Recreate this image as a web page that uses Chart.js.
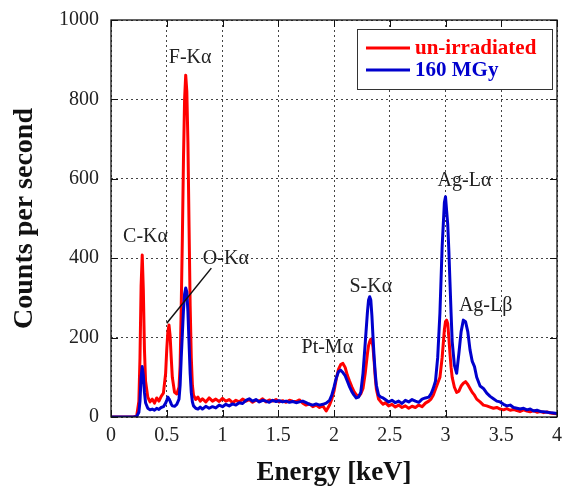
<!DOCTYPE html>
<html><head><meta charset="utf-8">
<script src="https://cdn.jsdelivr.net/npm/chart.js@4/dist/chart.umd.min.js"></script>
<style>html,body{margin:0;padding:0;background:#fff;}#wrap{width:563px;height:489px;}</style>
</head><body><div id="wrap"><canvas id="c" width="563" height="489"></canvas></div>
<script>
// ---- data ----
const energyKeV = [0.00,0.10,0.20,0.23,0.25,0.26,0.27,0.28,0.29,0.30,0.31,0.33,0.35,0.37,0.39,0.41,0.43,0.45,0.47,0.49,0.50,0.51,0.52,0.53,0.54,0.55,0.57,0.59,0.61,0.62,0.63,0.64,0.65,0.66,0.67,0.68,0.69,0.70,0.71,0.72,0.73,0.74,0.76,0.78,0.80,0.82,0.85,0.88,0.91,0.94,0.97,1.00,1.03,1.06,1.09,1.12,1.15,1.18,1.21,1.24,1.27,1.30,1.33,1.36,1.39,1.42,1.45,1.48,1.51,1.54,1.57,1.60,1.63,1.66,1.69,1.72,1.75,1.78,1.81,1.84,1.87,1.90,1.93,1.96,1.98,2.00,2.02,2.04,2.06,2.08,2.10,2.12,2.14,2.16,2.18,2.20,2.22,2.24,2.26,2.28,2.30,2.31,2.32,2.33,2.34,2.35,2.36,2.37,2.38,2.40,2.42,2.44,2.46,2.49,2.52,2.55,2.58,2.61,2.64,2.67,2.70,2.73,2.76,2.79,2.82,2.85,2.87,2.89,2.91,2.93,2.95,2.97,2.99,3.00,3.01,3.02,3.03,3.04,3.05,3.06,3.08,3.10,3.12,3.14,3.16,3.18,3.20,3.22,3.24,3.26,3.28,3.31,3.34,3.37,3.40,3.43,3.46,3.49,3.52,3.55,3.58,3.61,3.64,3.67,3.70,3.73,3.76,3.79,3.82,3.85,3.88,3.91,3.94,3.97,4.00];
const unIrradiated = [0,0,0,2,40,150,330,408,320,170,90,50,38,45,35,48,40,52,60,110,170,215,232,205,150,100,62,58,75,130,280,450,650,800,861,820,690,480,280,150,80,55,44,50,40,46,38,48,40,45,39,47,40,44,36,42,38,45,40,44,37,42,40,46,38,43,40,44,38,41,37,42,40,39,43,35,30,33,26,30,24,28,15,30,45,65,95,120,132,135,125,105,90,76,64,56,52,58,72,110,160,180,190,196,194,175,140,100,70,45,38,32,36,28,32,25,30,24,28,22,27,24,30,26,35,40,45,55,70,85,100,150,220,240,244,235,200,160,125,100,75,62,65,78,85,89,82,72,62,55,45,38,30,28,25,22,24,20,18,21,17,19,16,14,18,15,13,16,12,14,11,13,10,9,8];
const mgy160 = [0,0,0,1,12,40,100,127,105,62,36,22,18,20,17,22,19,24,26,35,42,50,46,40,33,28,27,32,45,80,150,210,270,310,325,315,265,185,110,62,38,28,22,20,25,20,27,22,26,23,30,26,32,28,33,30,36,34,42,46,40,44,38,42,40,37,42,39,41,38,40,37,39,36,38,40,36,32,30,33,30,32,35,42,55,75,98,114,118,112,104,90,76,64,55,48,50,62,110,186,265,295,303,295,255,200,150,110,80,55,50,48,44,38,42,36,40,34,42,38,44,40,37,45,48,50,58,72,90,150,262,430,540,555,520,485,420,340,262,190,130,110,160,215,244,240,215,169,140,127,100,78,72,60,52,46,40,38,32,28,30,24,22,20,22,18,20,15,17,14,13,12,11,10,9];
const seriesNames = ["un-irradiated", "160 MGy"];
const xTickValues = [0,0.5,1,1.5,2,2.5,3,3.5,4];
const xTickLabels = ["0","0.5","1","1.5","2","2.5","3","3.5","4"];
const yTickValues = [0,200,400,600,800,1000];
const yTickLabels = ["0","200","400","600","800","1000"];
const peakNames = ["C-Kα","O-Kα","F-Kα","Pt-Mα","S-Kα","Ag-Lα","Ag-Lβ"];
const peakNameE = [0.31,1.03,0.71,1.94,2.33,3.17,3.36];
const peakNameV = [455,398,904,174,327,594,280];
const oLeaderE = [0.50,0.90];
const oLeaderV = [236,375];

const SERIF = '"Liberation Serif", "Times New Roman", serif';
const RED = 'rgb(255,0,0)';
const BLUE = 'rgb(0,0,205)';

function pts(vals){ return energyKeV.map((e,i)=>({x:e,y:vals[i]})); }

const decor = {
  id:'decor',
  afterDatasetsDraw(chart){
    const ctx = chart.ctx, ca = chart.chartArea;
    const xs = chart.scales.x, ys = chart.scales.y;
    ctx.save();
    ctx.strokeStyle = '#111'; ctx.lineWidth = 1.3; ctx.setLineDash([]);
    ctx.strokeRect(ca.left, ca.top, ca.right-ca.left, ca.bottom-ca.top);
    ctx.lineWidth = 1;
    const tl = 7;
    xTickValues.forEach(v=>{
      const px = Math.round(xs.getPixelForValue(v))+0.5;
      ctx.beginPath(); ctx.moveTo(px, ca.bottom); ctx.lineTo(px, ca.bottom-tl);
      ctx.moveTo(px, ca.top); ctx.lineTo(px, ca.top+tl); ctx.stroke();
    });
    yTickValues.forEach(v=>{
      const py = Math.round(ys.getPixelForValue(v))+0.5;
      ctx.beginPath(); ctx.moveTo(ca.left, py); ctx.lineTo(ca.left+tl, py);
      ctx.moveTo(ca.right, py); ctx.lineTo(ca.right-tl, py); ctx.stroke();
    });
    ctx.strokeStyle = '#111'; ctx.lineWidth = 1.5;
    ctx.beginPath();
    ctx.moveTo(xs.getPixelForValue(oLeaderE[0]), ys.getPixelForValue(oLeaderV[0]));
    ctx.lineTo(xs.getPixelForValue(oLeaderE[1]), ys.getPixelForValue(oLeaderV[1]));
    ctx.stroke();
    ctx.fillStyle = '#222'; ctx.font = '20px ' + SERIF;
    ctx.textAlign = 'center'; ctx.textBaseline = 'middle';
    peakNames.forEach((t,i)=>{
      ctx.fillText(t, xs.getPixelForValue(peakNameE[i]), ys.getPixelForValue(peakNameV[i]));
    });
    const bx = ca.right - 200, by = ca.top + 9, bw = 195, bh = 60;
    ctx.fillStyle = '#fff'; ctx.fillRect(bx, by, bw, bh);
    ctx.strokeStyle = '#333'; ctx.lineWidth = 1; ctx.strokeRect(bx+0.5, by+0.5, bw, bh);
    const ds = chart.data.datasets;
    ctx.textAlign = 'left'; ctx.font = 'bold 21px ' + SERIF;
    [0,1].forEach(i=>{
      const ly = by + 19 + i*22;
      ctx.strokeStyle = ds[i].borderColor; ctx.lineWidth = 3;
      ctx.beginPath(); ctx.moveTo(bx+9, ly); ctx.lineTo(bx+53, ly); ctx.stroke();
      ctx.fillStyle = ds[i].borderColor;
      ctx.fillText(seriesNames[i], bx+58, ly+1);
    });
    ctx.restore();
  }
};

new Chart(document.getElementById('c'), {
  type:'line',
  data:{ datasets:[
    {label:seriesNames[0], data:pts(unIrradiated), borderColor:RED, borderWidth:3, pointRadius:0, tension:0, order:1, borderJoinStyle:'round'},
    {label:seriesNames[1], data:pts(mgy160), borderColor:BLUE, borderWidth:3, pointRadius:0, tension:0, order:0, borderJoinStyle:'round'}
  ]},
  options:{
    responsive:false, animation:false, devicePixelRatio:1,
    layout:{padding:{left:0,right:6,top:20,bottom:0}},
    plugins:{legend:{display:false}, tooltip:{enabled:false}},
    scales:{
      x:{type:'linear', min:0, max:4,
        afterBuildTicks:s=>{s.ticks = xTickValues.map(v=>({value:v}));},
        afterFit:s=>{s.height = 72; s.paddingRight = 0; s.paddingLeft = 0;},
        ticks:{callback:(v,i)=>xTickLabels[i], font:{family:SERIF,size:20}, color:'#222', padding:7, maxRotation:0, autoSkip:false},
        grid:{color:'#444', lineWidth:1, drawTicks:false},
        border:{display:false, dash:[2,3]},
        title:{display:true, text:'Energy [keV]', color:'#111', font:{family:SERIF,size:27,weight:'bold'}, padding:{top:0,bottom:0}}
      },
      y:{min:0, max:1000,
        afterBuildTicks:s=>{s.ticks = yTickValues.map(v=>({value:v}));},
        afterFit:s=>{s.width = 111; s.paddingTop = 0; s.paddingBottom = 0;},
        ticks:{callback:(v,i)=>yTickLabels[i], font:{family:SERIF,size:20}, color:'#222', padding:12},
        grid:{color:'#444', lineWidth:1, drawTicks:false},
        border:{display:false, dash:[2,3]},
        title:{display:true, text:'Counts per second', color:'#111', font:{family:SERIF,size:28,weight:'bold'}, padding:{top:8,bottom:0}}
      }
    }
  },
  plugins:[decor]
});
</script></body></html>
